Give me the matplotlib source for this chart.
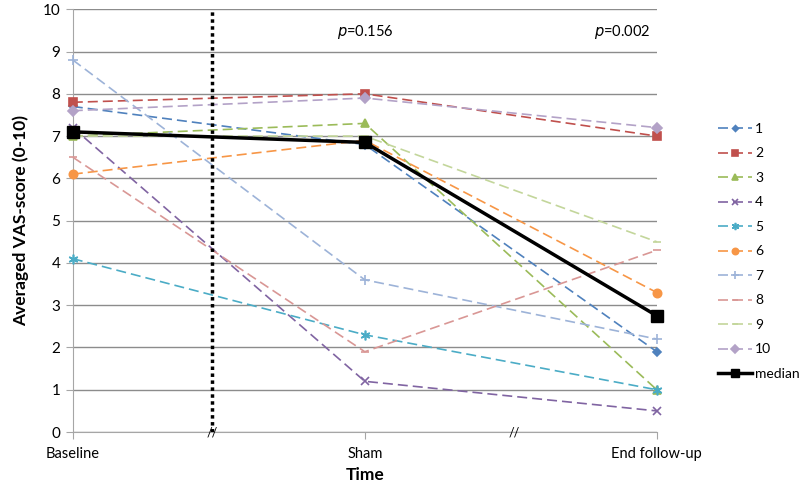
import matplotlib
matplotlib.use("Agg")
import matplotlib.pyplot as plt
import numpy as np

plt.rcParams['font.family'] = ['Lato', 'DejaVu Sans']

# time points
time_labels = ["Baseline", "Sham", "End follow-up"]

# averaged VAS-score per patient (baseline, sham, end follow-up)
p1 = [7.7, 6.8, 1.9]
p2 = [7.8, 8.0, 7.0]
p3 = [7.0, 7.3, 1.0]
p4 = [7.2, 1.2, 0.5]
p5 = [4.1, 2.3, 1.0]
p6 = [6.1, 6.9, 3.3]
p7 = [8.8, 3.6, 2.2]
p8 = [6.5, 1.9, 4.3]
p9 = [7.0, 7.0, 4.5]
p10 = [7.6, 7.9, 7.2]
median = [7.1, 6.85, 2.75]

patients = [p1, p2, p3, p4, p5, p6, p7, p8, p9, p10]
names = ["1", "2", "3", "4", "5", "6", "7", "8", "9", "10"]
colors = ["#4F81BD", "#C0504D", "#9BBB59", "#8064A2", "#4BACC6",
          "#F79646", "#9DB3D8", "#D99795", "#C3D69B", "#B3A2C7"]
markers = ["D", "s", "^", "x", (6, 2, 0), "o", "+", "_", "_", "D"]
msizes = [4, 6, 6, 6, 7, 6, 7, 6, 6, 5]

p_values = ["0.156", "0.002"]

fig = plt.figure(figsize=(8, 4.86), dpi=100)
ax = fig.add_axes([0.091, 0.111, 0.73, 0.870])

x = np.arange(len(time_labels))

for vals, name, c, m, ms in zip(patients, names, colors, markers, msizes):
    ax.plot(x, vals, color=c, linestyle=(0, (6, 3)), linewidth=1.2,
            marker=m, markersize=ms, markeredgecolor=c, markerfacecolor=c,
            markeredgewidth=1.2, label=name, clip_on=False, zorder=3)

ax.plot(x, median, color="black", linewidth=2.5, marker="s", markersize=8,
        label="median", clip_on=False, zorder=4)

# separation between baseline and sham phase
ax.plot([0.477, 0.477], [0, 10], color="black", linestyle=(0, (1, 1)),
        linewidth=2.5, zorder=5)

ax.set_xlim(0, 2)
ax.set_ylim(0, 10)
ax.set_yticks(range(0, 11))
ax.yaxis.grid(True, color="#8C8C8C", linewidth=1)
ax.set_axisbelow(True)
ax.set_xticks(x)
ax.set_xticklabels(time_labels, fontsize=10.5)
ax.tick_params(axis="x", direction="out", length=5, color="#A6A6A6", pad=6)
ax.tick_params(axis="y", direction="out", length=5, color="#A6A6A6",
               labelsize=11, pad=4)
for s in ["top", "right"]:
    ax.spines[s].set_visible(False)
for s in ["left", "bottom"]:
    ax.spines[s].set_color("#A6A6A6")

# axis break marks
for bx in [0.477, 1.51]:
    ax.text(bx, 0, "//", ha="center", va="center", fontsize=9,
            clip_on=False, zorder=6)

ax.text(1.0, 9.45, r"$\it{p}$=" + p_values[0], ha="center", va="center", fontsize=10.5)
ax.text(1.88, 9.45, r"$\it{p}$=" + p_values[1], ha="center", va="center", fontsize=10.5)

ax.set_ylabel("Averaged VAS-score (0-10)", fontsize=12.5, fontweight="bold", labelpad=10)
ax.set_xlabel("Time", fontsize=12.5, fontweight="bold", labelpad=4)

fig.legend(loc="upper left", bbox_to_anchor=(0.898, 0.747), frameon=False,
           fontsize=10, handlelength=2.4, labelspacing=0.9, handletextpad=0.25,
           markerscale=0.75, borderpad=0, borderaxespad=0)

fig.savefig("out.png", dpi=100)
